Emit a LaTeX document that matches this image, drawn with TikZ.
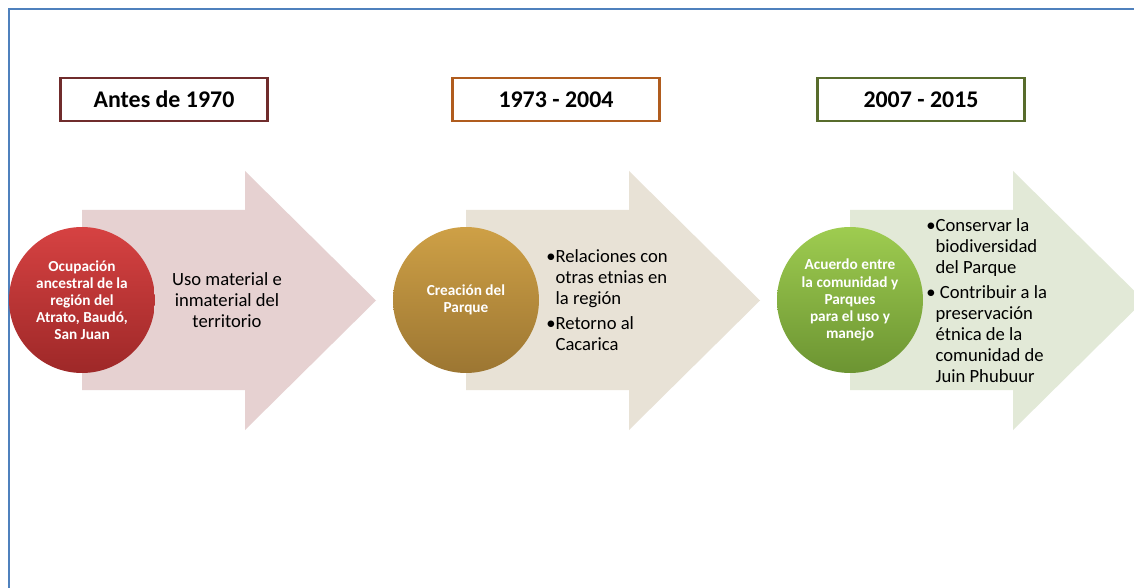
\documentclass[tikz,border=0pt]{standalone}
\usepackage{fontspec}
\setmainfont{Carlito}
\definecolor{frameblue}{RGB}{79,129,189}
\definecolor{lineone}{RGB}{112,44,44}
\definecolor{linetwo}{RGB}{176,92,30}
\definecolor{linethree}{RGB}{88,108,44}
\definecolor{arrowone}{RGB}{230,209,209}
\definecolor{arrowtwo}{RGB}{232,226,214}
\definecolor{arrowthree}{RGB}{226,233,215}
\begin{document}
\begin{tikzpicture}
  [
    x=0.02cm, y=-0.02cm,
    frm/.style={frameblue, line width=0.8pt},
    yearbox/.style={draw, fill=white, line width=1.7pt, minimum width=4.16cm,
      minimum height=0.86cm, font=\fontsize{13.6}{16}\selectfont\bfseries},
    ball/.style={circle, minimum size=2.92cm, inner sep=0pt, align=center,
      text=white, font=\fontsize{8.7}{9.7}\selectfont\bfseries},
    body/.style={inner sep=0pt, font=\fontsize{10.6}{11.9}\selectfont}
  ]
  \useasboundingbox (0,0) rectangle (1134,588);
  \fill [white] (0,0) rectangle (1134,588);
  \draw [frm] (9,588) -- (9,9) -- (1134,9);
  % year boxes
  \node [yearbox, draw=lineone]   (Y1) at (164, 99.5) {Antes de 1970};
  \node [yearbox, draw=linetwo]   (Y2) at (556, 99.5) {1973 - 2004};
  \node [yearbox, draw=linethree] (Y3) at (921, 99.5) {2007 - 2015};
  % arrows
  \foreach \x/\col in {82/arrowone, 466/arrowtwo, 850/arrowthree}
    \fill [\col] (\x,210) -- ({\x+163},210) -- ({\x+163},171) -- ({\x+294},300.5)
      -- ({\x+163},430) -- ({\x+163},390) -- (\x,390) -- cycle;
  % circles
  \node [ball, top color={rgb,255:red,214;green,66;blue,66},
    bottom color={rgb,255:red,158;green,40;blue,40}] (C1) at (82,300)
    {Ocupación\\ancestral de la\\región del\\Atrato, Baudó,\\San Juan};
  \node [ball, top color={rgb,255:red,206;green,160;blue,70},
    bottom color={rgb,255:red,156;green,118;blue,50}] (C2) at (466,300)
    {Creación del\\Parque};
  \node [ball, top color={rgb,255:red,158;green,204;blue,80},
    bottom color={rgb,255:red,108;green,148;blue,50}] (C3) at (850,300)
    {Acuerdo entre\\la comunidad y\\Parques\\para el uso y\\manejo};
  % texts
  \node [body, align=center] (T1) at (227,300)
    {Uso material e\\inmaterial del\\territorio};
  \node [body, align=left, anchor=west] (T2) at (546,300)
    {\textbullet Relaciones con\\\phantom{\textbullet}otras etnias en\\
     \phantom{\textbullet}la región\\[2.3pt]
     \textbullet Retorno al\\\phantom{\textbullet}Cacarica};
  \node [body, align=left, anchor=west] (T3) at (926,300.5)
    {\textbullet Conservar la\\\phantom{\textbullet}biodiversidad\\
     \phantom{\textbullet}del Parque\\[2.3pt]
     \textbullet\ Contribuir a la\\\phantom{\textbullet}preservación\\
     \phantom{\textbullet}étnica de la\\\phantom{\textbullet}comunidad de\\
     \phantom{\textbullet}Juin Phubuur};
\end{tikzpicture}
\end{document}
